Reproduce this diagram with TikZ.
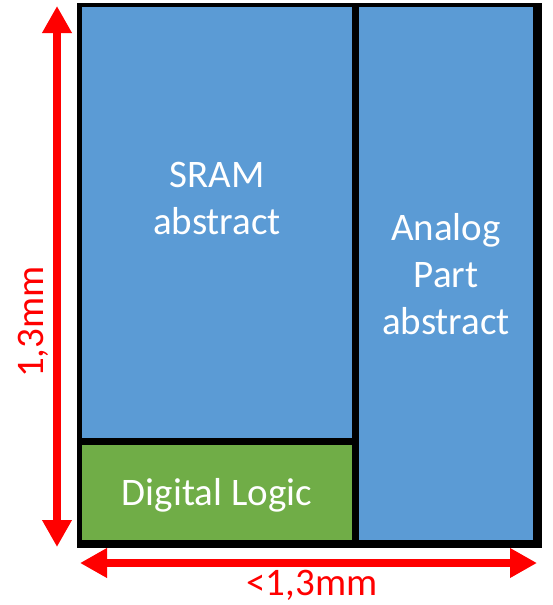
\documentclass[tikz,border=0pt]{standalone}
\usepackage{fontspec}
\setmainfont{Carlito}
\usetikzlibrary{arrows.meta}
\definecolor{boxblue}{HTML}{5B9BD5}
\definecolor{boxgreen}{HTML}{70AD47}
\definecolor{dimred}{HTML}{FF0000}
\tikzset{
  block/.style={anchor=north west, inner sep=0pt, outer sep=0pt, draw=none},
  boxtext/.style={text=white, font=\fontsize{39pt}{47pt}\selectfont, align=center, inner sep=0pt, anchor=base},
  dimtext/.style={text=dimred, font=\fontsize{39pt}{47pt}\selectfont, inner sep=0pt},
  dimarrow/.style={draw=dimred, line width=8pt, {Triangle[length=27pt,width=28pt]}-{Triangle[length=27pt,width=28pt]}}
}
\begin{document}
\begin{tikzpicture}[x=1pt,y=-1pt]
\useasboundingbox (0,0) rectangle (552,605);
% frame
\node[block, fill=black, minimum width=465pt, minimum height=545pt] (frame) at (77,3) {};
\node[block, fill=boxblue, minimum width=270pt, minimum height=431pt] (sram) at (82,7) {};
\node[block, fill=boxgreen, minimum width=270pt, minimum height=95pt] (logic) at (82,445) {};
\node[block, fill=boxblue, minimum width=174pt, minimum height=533pt] (analog) at (359,7) {};
% texts (base anchor = baseline of last line)
\node[boxtext] (sramtxt) at (217,234) {SRAM\\abstract};
\node[boxtext] (analogtxt) at (446,334) {Analog\\Part\\abstract};
\node[boxtext] (logictxt) at (217,505) {Digital Logic};
% dimension arrows
\coordinate (vtop) at (57,6);
\coordinate (vbot) at (57,547);
\coordinate (hleft) at (80,563);
\coordinate (hright) at (537,563);
\draw[dimarrow] (vbot) -- (vtop);
\draw[dimarrow] (hleft) -- (hright);
\node[dimtext, rotate=90] (hlabel) at (33,322) {1,3mm};
\node[dimtext] (wlabel) at (312,585) {<1,3mm};
\end{tikzpicture}
\end{document}
